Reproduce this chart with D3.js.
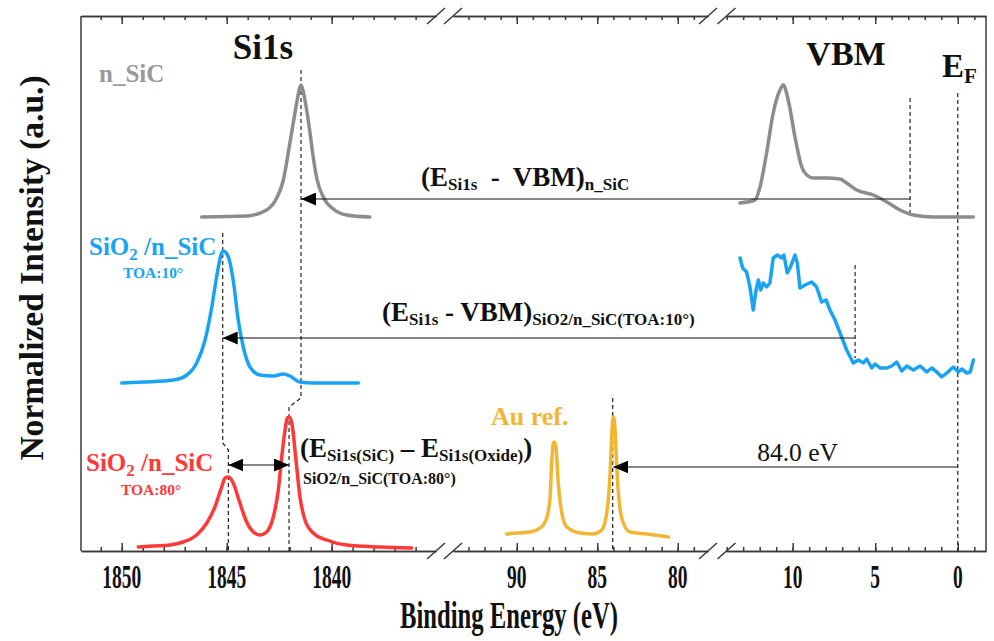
<!DOCTYPE html>
<html><head><meta charset="utf-8">
<script src="https://cdn.jsdelivr.net/npm/d3@7"></script>
<style>body{margin:0;background:#fff} svg{display:block}</style>
</head><body><div id="chart"></div>
<script>
// ---------- data ----------
const segmentDomains = [[1851.94, 1835.03], [93.96, 78.12], [14.04, -1.71]];
const minorTicks = [d3.range(1851, 1835, -1), d3.range(93, 78, -1), d3.range(14, -2, -1)];
const majorTicks = [[1850, 1845, 1840], [90, 85, 80], [10, 5, 0]];
const tickLabels = [["1850", "1845", "1840"], ["90", "85", "80"], ["10", "5", "0"]];

// [binding energy (eV), normalized intensity (a.u.)]
const nSiC_Si1s = [[1846.19,334],[1844.05,335],[1843.10,341],[1842.62,353],[1842.30,371],[1842.07,398],[1841.83,428],[1841.64,451],[1841.51,464],[1841.46,466],[1841.35,459],[1841.19,441],[1841.03,418],[1840.88,394],[1840.69,371],[1840.40,354],[1839.92,342],[1839.29,336],[1838.18,334]];
const toa10_Si1s = [[1850.00,168],[1848.97,169],[1847.54,171],[1846.90,176],[1846.43,188],[1846.03,211],[1845.71,244],[1845.48,274],[1845.24,298],[1845.16,300],[1844.92,294],[1844.69,271],[1844.45,231],[1844.21,204],[1843.89,184],[1843.41,176],[1842.78,175],[1842.30,177],[1841.99,175],[1841.51,169],[1840.88,168],[1838.73,168]];
const toa80_Si1s = [[1849.21,4],[1848.50,5],[1847.70,6],[1847.07,9],[1846.43,16],[1845.95,28],[1845.56,44],[1845.24,64],[1845.08,73],[1844.92,74],[1844.69,68],[1844.37,48],[1844.05,29],[1843.73,19],[1843.41,16],[1843.10,19],[1842.78,34],[1842.54,61],[1842.38,94],[1842.22,121],[1842.11,133],[1842.03,134],[1841.90,128],[1841.70,91],[1841.51,54],[1841.27,31],[1840.88,18],[1840.24,11],[1839.29,6],[1837.70,4],[1836.19,3]];
const au4f = [[90.62,17],[90.00,18],[89.17,19],[88.55,23],[88.14,33],[87.93,54],[87.83,88],[87.73,108],[87.66,109],[87.56,103],[87.42,68],[87.20,38],[86.89,24],[86.07,18],[85.24,17],[84.72,21],[84.41,38],[84.20,78],[84.10,114],[84.04,131],[84.00,134],[83.89,121],[83.79,84],[83.63,48],[83.38,28],[82.96,19],[81.93,17],[80.58,14]];
const nSiC_VB = [[13.19,348],[12.28,351],[11.98,364],[11.58,398],[11.18,438],[10.77,461],[10.57,466],[10.27,451],[9.86,414],[9.45,384],[9.15,376],[8.75,373],[7.94,373],[7.13,372],[6.73,368],[6.12,361],[5.12,356],[4.30,349],[3.50,341],[2.69,336],[1.48,334],[-0.95,334]];
const toa10_VB = [[13.19,293],[13.03,283],[12.79,279],[12.59,264],[12.39,241],[12.22,261],[12.08,271],[11.94,261],[11.78,268],[11.58,264],[11.38,268],[11.18,293],[10.93,296],[10.67,293],[10.53,296],[10.33,278],[10.16,283],[9.86,296],[9.72,288],[9.56,263],[9.25,266],[8.85,269],[8.55,264],[8.25,249],[7.98,251],[7.74,241],[7.44,231],[7.13,218],[6.73,201],[6.33,188],[6.02,191],[5.72,188],[5.52,192],[5.21,183],[5.01,187],[4.71,183],[4.30,183],[4.00,185],[3.70,189],[3.39,180],[3.09,185],[2.69,181],[2.28,185],[1.88,179],[1.58,183],[1.27,179],[0.97,174],[0.67,178],[0.27,184],[-0.04,179],[-0.24,182],[-0.55,178],[-0.75,179],[-0.95,191]];

// dashed reference lines: polylines [eV, intensity]
const refLines = [
  [[1841.46,481],[1841.46,153],[1842.03,144],[1842.03,0]],
  [[1845.19,318],[1845.19,108],[1844.92,101],[1844.92,0]],
  [[2.89,453],[2.89,336]],
  [[0,458],[0,0]],
  [[6.22,286],[6.22,193]],
  [[84.04,153],[84.04,0]]
];
// arrows: [from eV, to eV, intensity, double-headed]
const arrows = [
  [1841.46, 2.89, 352, false],
  [1845.19, 6.22, 213, false],
  [1844.92, 1842.03, 86, true],
  [84.0, 0, 84, false]
];

// ---------- layout ----------
const W = 994, H = 641;
const L = 81, R = 986, T = 16, B = 551;
const segRanges = [[81, 436], [453, 708], [726, 986]];
const breaks = [[436, 453], [708, 726.5]];
const FONT = '"Liberation Serif", "Times New Roman", serif';

const xs = segmentDomains.map((d, i) => d3.scaleLinear().domain(d).range(segRanges[i]));
const segOf = v => v > 1000 ? 0 : (v > 40 ? 1 : 2);
const X = v => xs[segOf(v)](v);
const y = d3.scaleLinear().domain([0, 535]).range([B, T]);

const svg = d3.select("#chart").append("svg").attr("width", W).attr("height", H);
const axisColor = "#3a3a3a";

// frame sides
svg.append("line").attr("x1", L).attr("x2", L).attr("y1", T).attr("y2", B).attr("stroke", axisColor).attr("stroke-width", 1.5);
svg.append("line").attr("x1", R).attr("x2", R).attr("y1", T).attr("y2", B).attr("stroke", axisColor).attr("stroke-width", 1.5);

// axes
xs.forEach((s, i) => {
  [["bottom", B], ["top", T]].forEach(([side, yy]) => {
    const mk = side === "bottom" ? d3.axisBottom : d3.axisTop;
    const gMinor = svg.append("g").attr("transform", `translate(0,${yy})`)
      .call(mk(s).tickValues(minorTicks[i]).tickSizeInner(-4).tickSizeOuter(0).tickFormat(""));
    const gMajor = svg.append("g").attr("transform", `translate(0,${yy})`)
      .call(mk(s).tickValues(majorTicks[i]).tickSizeInner(-8).tickSizeOuter(0).tickFormat(""));
    [gMinor, gMajor].forEach(g => {
      g.selectAll("path,line").attr("stroke", axisColor).attr("stroke-width", 1.5);
    });
  });
  majorTicks[i].forEach((t, j) => {
    svg.append("text")
      .attr("transform", `translate(${s(t)},588) scale(1,1.7)`)
      .attr("text-anchor", "middle")
      .style("font-family", FONT).style("font-weight", "bold").style("font-size", "19.5px")
      .attr("fill", "#111").text(tickLabels[i][j]);
  });
});

// break marks
breaks.forEach(([a, b]) => {
  [T, B].forEach(yy => {
    [a, b].forEach(cx => {
      svg.append("line").attr("x1", cx - 9).attr("y1", yy + 8).attr("x2", cx + 9).attr("y2", yy - 8)
        .attr("stroke", axisColor).attr("stroke-width", 1.5);
    });
  });
});

// axis titles
svg.append("text").attr("transform", `translate(509,628) scale(1,1.5)`)
  .attr("text-anchor", "middle")
  .style("font-family", FONT).style("font-weight", "bold").style("font-size", "24.7px")
  .attr("fill", "#111").text("Binding Energy (eV)");
svg.append("text").attr("transform", `translate(43,268) rotate(-90)`)
  .attr("text-anchor", "middle")
  .style("font-family", FONT).style("font-weight", "bold").style("font-size", "33.5px")
  .attr("fill", "#111").text("Normalized Intensity (a.u.)");

// reference dashed lines
const pl = d3.line().x(d => X(d[0])).y(d => y(d[1]));
refLines.forEach(r => {
  svg.append("path").attr("d", pl(r)).attr("fill", "none").attr("stroke", "#222")
    .attr("stroke-width", 1.2).attr("stroke-dasharray", "4,3");
});

// curves
const line = d3.line().x(d => X(d[0])).y(d => y(d[1])).curve(d3.curveMonotoneX);
const lineRaw = d3.line().x(d => X(d[0])).y(d => y(d[1]));
const curves = [
  [nSiC_Si1s, "#8c8c8c", line], [nSiC_VB, "#8c8c8c", line],
  [toa10_Si1s, "#1aa3f2", line], [toa10_VB, "#1aa3f2", lineRaw],
  [toa80_Si1s, "#ff3838", line], [au4f, "#f2b632", line]
];
curves.forEach(([d, c, gen]) => {
  svg.append("path").attr("d", gen(d)).attr("fill", "none").attr("stroke", c)
    .attr("stroke-width", 3.5).attr("stroke-linejoin", "round").attr("stroke-linecap", "round");
});

// arrows
const defs = svg.append("defs");
defs.append("marker").attr("id", "ah").attr("markerUnits", "userSpaceOnUse")
  .attr("markerWidth", 16).attr("markerHeight", 13).attr("refX", 15).attr("refY", 6.5)
  .attr("orient", "auto-start-reverse")
  .append("path").attr("d", "M0,0 L15,6.5 L0,13 Z").attr("fill", "#000");
arrows.forEach(([a, b, v, dbl]) => {
  svg.append("line").attr("x1", X(a)).attr("x2", X(b)).attr("y1", y(v)).attr("y2", y(v))
    .attr("stroke", "#111").attr("stroke-width", 1.2)
    .attr("marker-start", "url(#ah)").attr("marker-end", dbl ? "url(#ah)" : null);
});

// helper for text with tspans
function rich(x, yy, parts, opts = {}) {
  const t = svg.append("text").attr("x", x).attr("y", yy)
    .style("font-family", FONT).style("font-weight", opts.weight || "bold")
    .style("white-space", "pre")
    .attr("fill", opts.fill || "#111")
    .attr("text-anchor", opts.anchor || "start");
  parts.forEach(p => {
    const ts = t.append("tspan").style("font-size", p.s + "px").text(p.t);
    if (p.dy) ts.attr("dy", p.dy);
  });
  return t;
}

// peak / region labels
rich(263, 59, [{t: "Si1s", s: 35}], {anchor: "middle"});
rich(846, 65, [{t: "VBM", s: 34}], {anchor: "middle"});
rich(942, 77, [{t: "E", s: 33}, {t: "F", s: 21, dy: 6}]);

rich(99, 82, [{t: "n_SiC", s: 25}], {fill: "#999"});
rich(89, 255, [{t: "SiO", s: 25}, {t: "2", s: 17, dy: 5}, {t: " /n_SiC", s: 25, dy: -5}], {fill: "#1aa3f2"});
rich(123, 278, [{t: "TOA:10°", s: 15.5}], {fill: "#1aa3f2"});
rich(86, 471, [{t: "SiO", s: 25}, {t: "2", s: 17, dy: 5}, {t: " /n_SiC", s: 25, dy: -5}], {fill: "#ff3838"});
rich(121, 495, [{t: "TOA:80°", s: 15.5}], {fill: "#ff3838"});
rich(491, 425, [{t: "Au ref.", s: 26}], {fill: "#f2b632"});

// arrow labels
rich(421, 186, [{t: "(E", s: 27}, {t: "Si1s", s: 17, dy: 4}, {t: "  -  VBM)", s: 27, dy: -4}, {t: "n_SiC", s: 17, dy: 4}]);
rich(382, 321, [{t: "(E", s: 27}, {t: "Si1s", s: 17, dy: 4}, {t: " - VBM)", s: 27, dy: -4}, {t: "SiO2/n_SiC(TOA:10°)", s: 17, dy: 4}]);
rich(300, 457, [{t: "(E", s: 27}, {t: "Si1s(SiC)", s: 17, dy: 4}, {t: " – E", s: 27, dy: -4}, {t: "Si1s(Oxide)", s: 17, dy: 4}, {t: ")", s: 27, dy: -4}]);
rich(303, 484, [{t: "SiO2/n_SiC(TOA:80°)", s: 16}]);
rich(797.5, 461, [{t: "84.0 eV", s: 25.5}], {weight: "normal", anchor: "middle"});
</script></body></html>
